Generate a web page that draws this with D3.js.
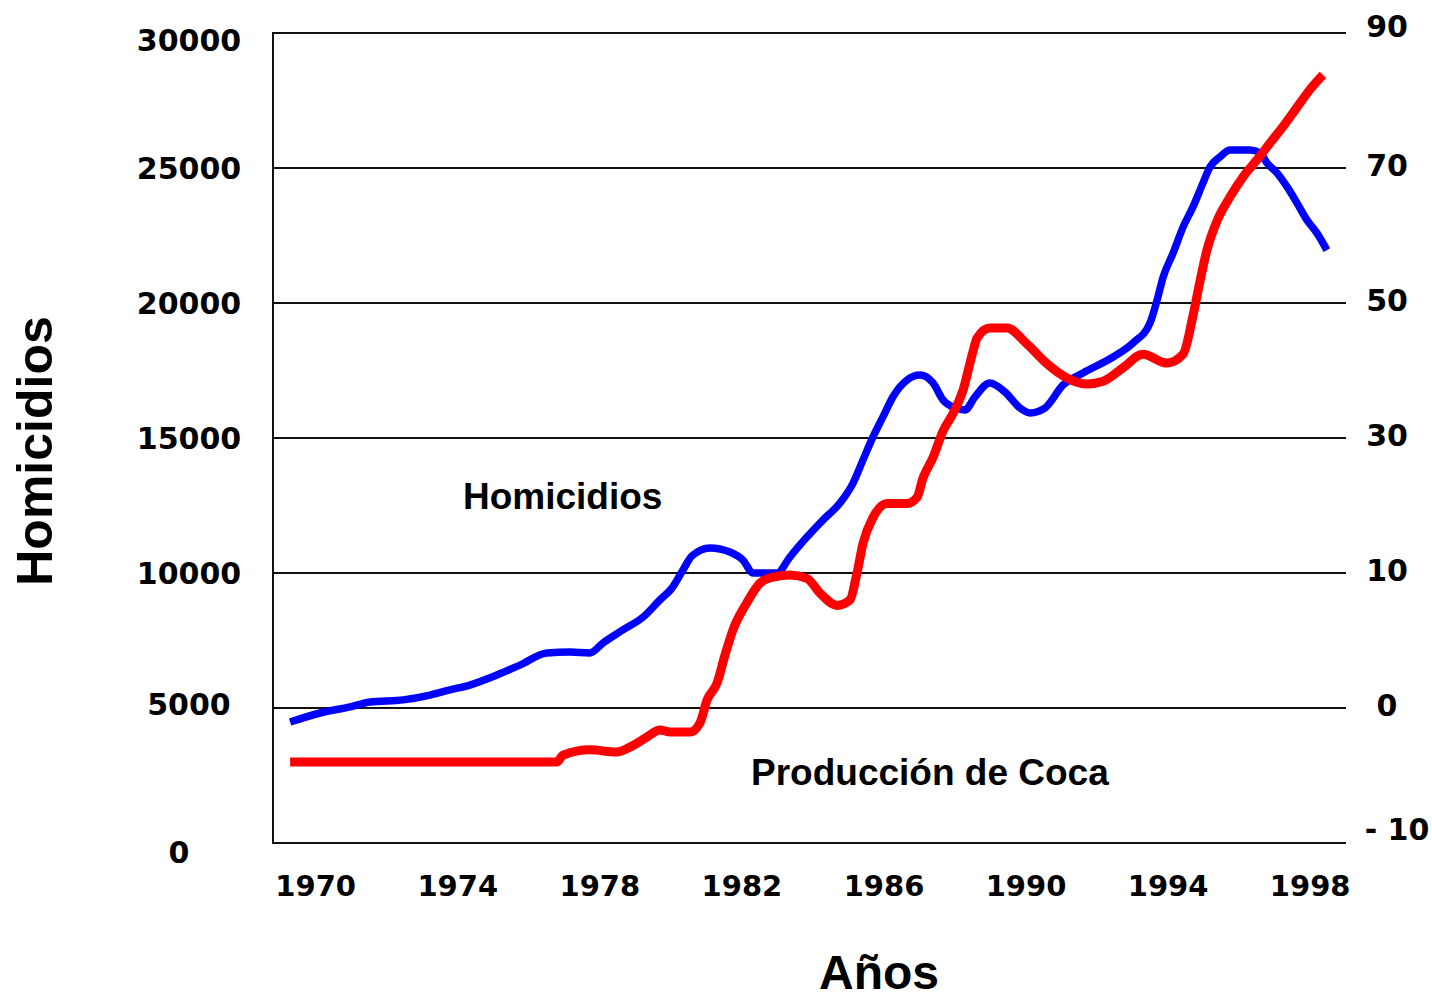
<!DOCTYPE html>
<html>
<head>
<meta charset="utf-8">
<script src="https://cdn.jsdelivr.net/npm/d3@7"></script>
<style>
  html, body { margin: 0; padding: 0; background: #fff; }
  svg { display: block; }
</style>
</head>
<body>
<svg id="chart" width="1432" height="1001"></svg>
<script>
// ---------- DATA ----------
const xTickYears = [1970, 1974, 1978, 1982, 1986, 1990, 1994, 1998];
const homTicks = [0, 5000, 10000, 15000, 20000, 25000, 30000];
const cocaTicks = [-10, 0, 10, 30, 50, 70, 90];
const cocaTickLabels = ["- 10", "0", "10", "30", "50", "70", "90"];

const homYears = [1969.28,1970.12,1970.97,1971.53,1972.46,1973.22,1973.78,1974.34,1975.10,1975.75,
  1976.51,1977.16,1977.72,1978.09,1978.65,1979.22,1979.69,1980.03,1980.34,1980.59,
  1981.10,1981.66,1982.03,1982.31,1982.99,1983.35,1983.83,1984.28,1984.76,1985.13,
  1985.41,1985.69,1985.97,1986.25,1986.65,1987.01,1987.38,1987.66,1988.00,1988.28,
  1988.56,1988.98,1989.41,1989.83,1990.11,1990.53,1991.04,1991.60,1992.45,1993.01,
  1993.49,1993.69,1993.86,1994.14,1994.42,1994.70,1994.98,1995.18,1995.46,1995.74,
  1996.31,1996.59,1996.78,1997.07,1997.35,1997.63,1997.91,1998.19,1998.47];
const homValues = [4480,4815,5040,5220,5300,5480,5670,5850,6220,6590,
  7040,7070,7040,7410,7890,8370,9000,9440,10110,10630,
  10930,10780,10480,10000,10000,10590,11330,11960,12590,13330,
  14190,15040,15780,16520,17150,17330,17040,16410,16110,16040,
  16520,17040,16700,16110,15930,16110,16960,17410,18000,18520,
  19260,20110,20960,21850,22810,23560,24440,25040,25410,25670,
  25670,25560,25190,24810,24300,23700,23070,22590,21960];

const cocaYears = [1969.28,1976.79,1976.96,1977.72,1978.48,1978.85,1979.33,1979.69,1979.98,1980.54,
  1980.82,1981.02,1981.30,1981.52,1981.75,1982.14,1982.51,1982.88,1983.35,1983.83,
  1984.20,1984.68,1985.04,1985.24,1985.41,1985.69,1986.09,1986.65,1986.93,1987.10,
  1987.38,1987.66,1987.94,1988.22,1988.51,1988.62,1988.98,1989.46,1990.03,1990.59,
  1991.15,1991.72,1992.17,1992.73,1993.29,1993.97,1994.42,1994.70,1994.90,1995.09,
  1995.38,1995.74,1996.11,1996.50,1996.87,1997.23,1997.63,1997.99,1998.36];
const cocaValues = [-4.0,-4.0,-3.5,-3.1,-3.26,-2.9,-2.15,-1.63,-1.78,-1.78,
  -1.1,0.6,1.85,3.9,5.8,7.8,9.25,9.7,9.85,9.6,
  8.5,7.6,8.0,10.0,14.4,18.2,20.3,20.3,21.2,24.1,
  27.1,31.0,33.6,37.0,42.9,44.8,46.3,46.3,43.9,41.0,
  38.9,38.0,38.4,40.4,42.4,41.1,42.4,48.1,53.3,57.8,
  62.2,65.7,68.7,71.2,73.7,76.1,79.0,81.6,83.8];

const labelHom = "Homicidios";
const labelCoca = "Producción de Coca";
const axisTitleY = "Homicidios";
const axisTitleX = "Años";

// ---------- LAYOUT ----------
const plotLeft = 273, plotRight = 1346, plotTop = 33, plotBottom = 843;
const svg = d3.select("#chart");

const x = d3.scaleLinear().domain([1970, 1998]).range([315.7, 1310.2]);
const y = d3.scaleLinear().domain([0, 30000]).range([plotBottom, plotTop]);
const yCoca = d3.scaleLinear().domain(cocaTicks).range(homTicks.map(y));

const tickFont = "'DejaVu Sans', sans-serif";
const titleFont = "'Liberation Sans', Arial, sans-serif";

// gridlines
svg.append("g").selectAll("line").data(homTicks).join("line")
  .attr("x1", plotLeft).attr("x2", plotRight)
  .attr("y1", d => y(d)).attr("y2", d => y(d))
  .attr("stroke", "#111").attr("stroke-width", 2);

// left axis line
svg.append("line")
  .attr("x1", plotLeft).attr("x2", plotLeft)
  .attr("y1", plotTop - 1).attr("y2", plotBottom + 1)
  .attr("stroke", "#111").attr("stroke-width", 2);

// left tick labels
svg.append("g").selectAll("text").data(homTicks).join("text")
  .attr("x", d => d === 0 ? 179 : 189)
  .attr("y", d => y(d) + (d === 0 ? 9 : d === 30000 ? 7 : d === 5000 ? -4 : 0))
  .attr("text-anchor", "middle").attr("dominant-baseline", "central")
  .attr("font-family", tickFont).attr("font-weight", "bold").attr("font-size", 30)
  .attr("fill", "#000")
  .text(d => d);

// right tick labels
svg.append("g").selectAll("text").data(cocaTicks).join("text")
  .attr("x", d => d === -10 ? 1397 : 1387)
  .attr("y", d => yCoca(d) - (d === -10 ? 14 : d === 90 ? 7 : 3))
  .attr("text-anchor", "middle").attr("dominant-baseline", "central")
  .attr("font-family", tickFont).attr("font-weight", "bold").attr("font-size", 30)
  .attr("fill", "#000")
  .text((d, i) => cocaTickLabels[i]);

// x tick labels
svg.append("g").selectAll("text").data(xTickYears).join("text")
  .attr("x", d => x(d)).attr("y", 886)
  .attr("text-anchor", "middle").attr("dominant-baseline", "central")
  .attr("font-family", tickFont).attr("font-weight", "bold").attr("font-size", 29)
  .attr("fill", "#000")
  .text(d => d);

// lines
const homData = homYears.map((yr, i) => [yr, homValues[i]]);
const cocaData = cocaYears.map((yr, i) => [yr, cocaValues[i]]);

const homLine = d3.line().x(d => x(d[0])).y(d => y(d[1])).curve(d3.curveMonotoneX);
const cocaLine = d3.line().x(d => x(d[0])).y(d => yCoca(d[1])).curve(d3.curveMonotoneX);

svg.append("path").datum(homData)
  .attr("d", homLine).attr("fill", "none")
  .attr("stroke", "#0000ff").attr("stroke-width", 7.5)
  .attr("stroke-linejoin", "round");

svg.append("path").datum(cocaData)
  .attr("d", cocaLine).attr("fill", "none")
  .attr("stroke", "#ff0000").attr("stroke-width", 9)
  .attr("stroke-linejoin", "round");

// series labels
svg.append("text").attr("x", 463).attr("y", 509)
  .attr("font-family", titleFont).attr("font-weight", "bold").attr("font-size", 37)
  .attr("fill", "#000").text(labelHom);
svg.append("text").attr("x", 751).attr("y", 785)
  .attr("font-family", titleFont).attr("font-weight", "bold").attr("font-size", 37)
  .attr("fill", "#000").text(labelCoca);

// axis titles
svg.append("text")
  .attr("transform", "translate(52,451) rotate(-90)")
  .attr("text-anchor", "middle")
  .attr("font-family", titleFont).attr("font-weight", "bold").attr("font-size", 50)
  .attr("fill", "#000").text(axisTitleY);
svg.append("text").attr("x", 879).attr("y", 989)
  .attr("text-anchor", "middle")
  .attr("font-family", titleFont).attr("font-weight", "bold").attr("font-size", 48)
  .attr("fill", "#000").text(axisTitleX);
</script>
</body>
</html>
